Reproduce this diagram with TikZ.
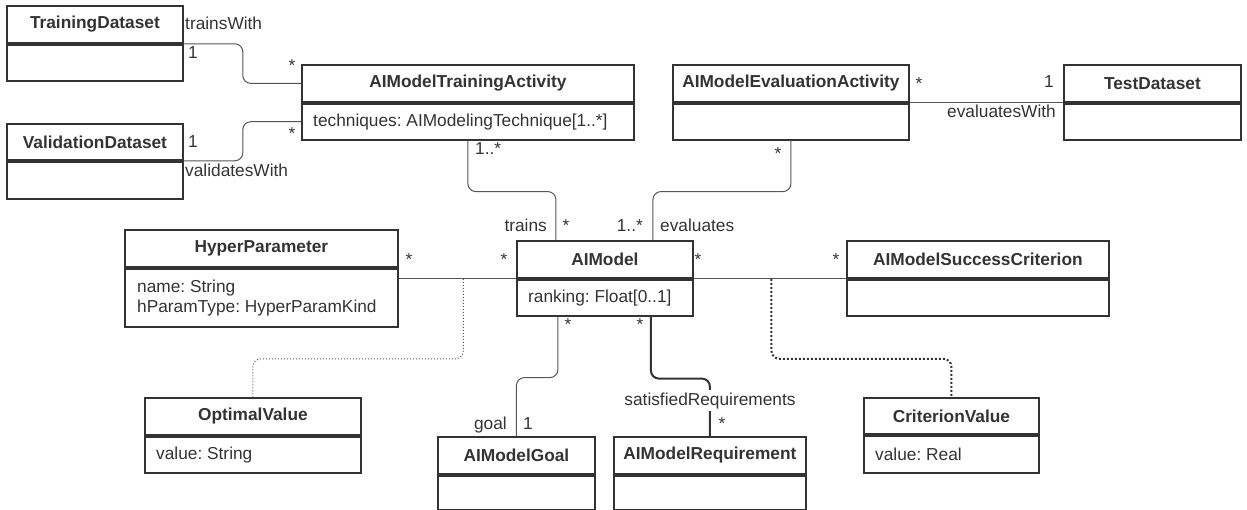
\documentclass[tikz,border=0pt]{standalone}
\usepackage{fontspec}
\setmainfont{Liberation Sans}
\frenchspacing
\usetikzlibrary{calc}
\definecolor{ink}{HTML}{333333}
\definecolor{wire}{HTML}{555555}
\tikzset{
  uml/.style={draw=ink, line width=1.8pt, inner sep=0pt, anchor=north west, text=ink},
  classhead/.style={uml, font=\fontsize{17.3}{20}\selectfont\bfseries},
  classbody/.style={uml},
  attr/.style={anchor=west, align=left, inner sep=0pt, text=ink, font=\fontsize{17.3}{20}\selectfont},
  lbl/.style={inner sep=0pt, text=ink, font=\fontsize{17.3}{20}\selectfont},
  assoc/.style={draw=wire, line width=1pt, rounded corners=8pt},
  assocbold/.style={draw=ink, line width=2pt, rounded corners=8pt},
  linkdots/.style={draw=wire, line width=1pt, dash pattern=on 1pt off 2pt, rounded corners=8pt},
  linkdotsbold/.style={draw=ink, line width=2pt, dash pattern=on 2pt off 2pt, rounded corners=8pt},
}
\def\umlclass(#1)(#2,#3)(#4,#5,#6)#7{%
  \node[classhead, minimum width={#4-#2}, minimum height={#5-#3}] (#1) at (#2,#3) {#7};
  \node[classbody, minimum width={#4-#2}, minimum height={#6-#5}] (#1-b) at (#1.south west) {};
}

\begin{document}
\begin{tikzpicture}[x=1pt, y=-1pt]
	%%%%% START %%%%%
	\useasboundingbox (0,0) rectangle (1247,510);
	
	\umlclass(td)(6,5)(182,42,78){TrainingDataset}
	\umlclass(vd)(6,123)(182,159,196){ValidationDataset}
	\umlclass(aita)(301,64)(633,101,137){AIModelTrainingActivity}
	\umlclass(aimea)(672,64)(908,101,137){AIModelEvaluationActivity}
	\umlclass(tds)(1063,64)(1240,101,137){TestDataset}
	\umlclass(hp)(124,229)(397,266,324){HyperParameter}
	\umlclass(aim)(516,240)(692,277,313){AIModel}
	\umlclass(aimsc)(846,240)(1108,277,313){AIModelSuccessCriterion}
	\umlclass(ov)(144,397)(360,434,470){OptimalValue}
	\umlclass(goal)(437,436)(594,473,507){AIModelGoal}
	\umlclass(aimr)(613,436)(805,473,507){AIModelRequirement}
	\umlclass(cv)(863,397)(1038,433,470){CriterionValue}
	
	\node[attr] (aita-a) at ([xshift=12pt]aita-b.west) {techniques: AIModelingTechnique[1..*]};
	\node[attr] (hp-a) at ([xshift=13pt]hp-b.west) {name: String\\hParamType: HyperParamKind};
	\node[attr] (aim-a) at ([xshift=12pt]aim-b.west) {ranking: Float[0..1]};
	\node[attr] (ov-a) at ([xshift=12pt]ov-b.west) {value: String};
	\node[attr] (cv-a) at ([xshift=12pt]cv-b.west) {value: Real};
	
	% associations
	\draw[assoc] (td-b.north east) -- ++(59,0) |- (aita.west);
	\draw[assoc] (vd-b.north east) -- ++(59,0) |- (aita-b.west);
	\draw[assoc] (aita-b.south) -- ++(0,51) -| ([xshift=-49pt]aim.north);
	\draw[assoc] (aimea-b.south) -- ++(0,51) -| ([xshift=48pt]aim.north);
	\draw[assoc] (aimea-b.north east) -- (tds-b.north west);
	\draw[assoc] (aim-b.north west) -- coordinate[pos=0.45] (hpdot) (aim-b.north west -| hp-b.east);
	\draw[assoc] (aim-b.north east) -- coordinate[pos=0.51] (scdot) (aimsc-b.north west);
	\draw[assoc] ([xshift=-47pt]aim-b.south) -- ++(0,61) -| (goal.north);
	\draw[assocbold] ([xshift=46pt]aim-b.south) -- ++(0,62) -| (aimr.north);
	
	% association classes
	\draw[linkdots] (hpdot) -- ++(0,80) -| (ov.north);
	\draw[linkdotsbold] (scdot) -- ++(0,80) -| (cv.north);
	
	% roles and multiplicities
	\node[lbl, anchor=base west] (trainswith) at (185,30) {trainsWith};
	\node[lbl, anchor=base] (td-m) at (193,59) {1};
	\node[lbl, anchor=base] (aita-m1) at (292,72) {*};
	\node[lbl, anchor=base] (vd-m) at (193,148) {1};
	\node[lbl, anchor=base west] (validateswith) at (185,177) {validatesWith};
	\node[lbl, anchor=base] (aita-m2) at (292,140) {*};
	\node[lbl, anchor=base west] (aita-m3) at (475,155) {1..*};
	\node[lbl, anchor=base] (aimea-m1) at (778,160) {*};
	\node[lbl, anchor=base] (aimea-m2) at (919,90) {*};
	\node[lbl, anchor=base] (tds-m) at (1049,88) {1};
	\node[lbl, anchor=base east] (evaluateswith) at (1056,118) {evaluatesWith};
	\node[lbl, anchor=base east] (trains) at (547,232) {trains};
	\node[lbl, anchor=base] (aim-m1) at (566,232) {*};
	\node[lbl, anchor=base east] (aim-m2) at (643,232) {1..*};
	\node[lbl, anchor=base west] (evaluates) at (660,232) {evaluates};
	\node[lbl, anchor=base] (hp-m) at (409,266) {*};
	\node[lbl, anchor=base] (aim-m3) at (504,266) {*};
	\node[lbl, anchor=base] (aim-m4) at (698,266) {*};
	\node[lbl, anchor=base] (aimsc-m) at (836,266) {*};
	\node[lbl, anchor=base] (aim-m5) at (568,331) {*};
	\node[lbl, anchor=base] (aim-m6) at (640,331) {*};
	\node[lbl, anchor=base east] (goalrole) at (507,429) {goal};
	\node[lbl, anchor=base] (goal-m) at (528,429) {1};
	\node[lbl, anchor=base, fill=white, inner ysep=2pt] (satreq) at (710,405) {satisfiedRequirements};
	\node[lbl, anchor=base] (aimr-m) at (722,429) {*};
	%%%%% END %%%%%
\end{tikzpicture}
\end{document}
